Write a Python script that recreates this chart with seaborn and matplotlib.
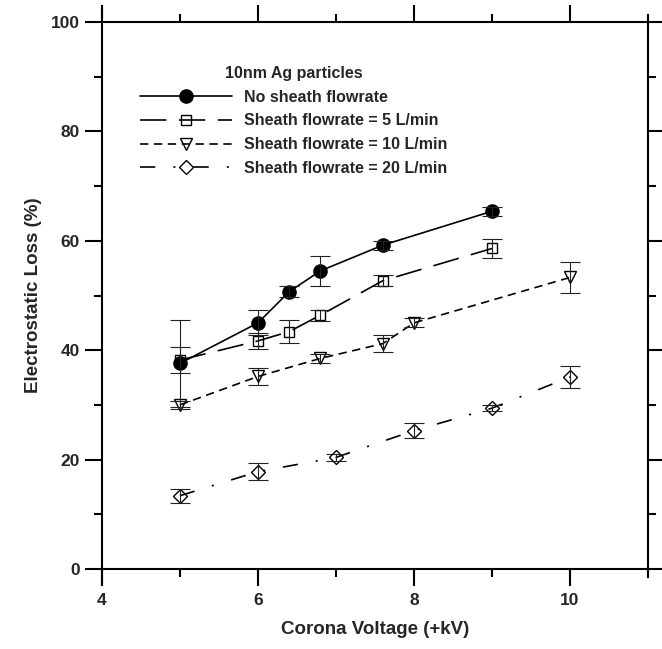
import matplotlib
matplotlib.use("Agg")
import matplotlib.pyplot as plt
import seaborn as sns
import pandas as pd
from matplotlib.ticker import MultipleLocator, FixedLocator

# Electrostatic loss of 10 nm Ag particles vs. corona voltage
voltage_none = [5, 6, 6.4, 6.8, 7.6, 9]
loss_none = [37.6, 45.0, 50.7, 54.5, 59.2, 65.4]
err_none = [8.0, 2.3, 1.0, 2.7, 0.8, 0.8]

voltage_5 = [5, 6, 6.4, 6.8, 7.6, 9]
loss_5 = [38.2, 41.7, 43.4, 46.4, 52.7, 58.6]
err_5 = [2.4, 1.4, 2.1, 1.0, 1.0, 1.8]

voltage_10 = [5, 6, 6.8, 7.6, 8, 10]
loss_10 = [30.0, 35.2, 38.5, 41.2, 45.0, 53.3]
err_10 = [0.8, 1.6, 0.8, 1.5, 0.8, 2.8]

voltage_20 = [5, 6, 7, 8, 9, 10]
loss_20 = [13.4, 17.8, 20.4, 25.3, 29.4, 35.1]
err_20 = [1.3, 1.5, 0.7, 1.3, 0.6, 2.0]

labels = ["No sheath flowrate",
          "Sheath flowrate = 5 L/min",
          "Sheath flowrate = 10 L/min",
          "Sheath flowrate = 20 L/min"]
legend_title = "10nm Ag particles"

sns.set_theme(style="ticks")
plt.rcParams["font.family"] = ["Liberation Sans", "DejaVu Sans"]
plt.rcParams["font.weight"] = "bold"
plt.rcParams["lines.scale_dashes"] = False

fig = plt.figure(figsize=(6.62, 6.49), dpi=100)
ax = fig.add_axes([102 / 662, 1 - 569 / 649, 546 / 662, 547 / 649])

series = [
    dict(x=voltage_none, y=loss_none, e=err_none, marker="o", ms=9.5,
         mfc="black", ls="-"),
    dict(x=voltage_5, y=loss_5, e=err_5, marker="s", ms=7.5,
         mfc="none", ls=(0, (19, 9))),
    dict(x=voltage_10, y=loss_10, e=err_10, marker="v", ms=9,
         mfc="none", ls=(0, (6, 4))),
    dict(x=voltage_20, y=loss_20, e=err_20, marker="D", ms=7.5,
         mfc="none", ls=(0, (11, 13, 1.5, 13))),
]

for s, lab in zip(series, labels):
    df = pd.DataFrame({"Voltage": s["x"], "Loss": s["y"]})
    sns.lineplot(data=df, x="Voltage", y="Loss", ax=ax, sort=False,
                 color="black", lw=1.2, linestyle=s["ls"],
                 marker=s["marker"], markersize=s["ms"],
                 markerfacecolor=s["mfc"], markeredgecolor="black",
                 markeredgewidth=1.0, label=lab, errorbar=None, zorder=3)
    ax.errorbar(s["x"], s["y"], yerr=s["e"], fmt="none", ecolor="#222222",
                elinewidth=0.8, capsize=7, capthick=0.8, zorder=4)

ax.set_xlim(4, 11)
ax.set_ylim(0, 100)

ax.xaxis.set_major_locator(FixedLocator([4, 6, 8, 10]))
ax.xaxis.set_minor_locator(MultipleLocator(1))
ax.yaxis.set_major_locator(MultipleLocator(20))
ax.yaxis.set_minor_locator(MultipleLocator(10))

ax.tick_params(axis="both", which="major", direction="out", length=12,
               width=1.5, labelsize=12.5, color="black", top=True,
               right=True, labeltop=False, labelright=False)
ax.tick_params(axis="both", which="minor", direction="out", length=6,
               width=1.5, color="black", top=True, right=True)
ax.tick_params(axis="x", which="major", pad=5)
ax.tick_params(axis="y", which="major", pad=4)
for lbl in ax.get_xticklabels() + ax.get_yticklabels():
    lbl.set_fontweight("bold")

for side in ["left", "right", "top", "bottom"]:
    ax.spines[side].set_visible(True)
    ax.spines[side].set_linewidth(1.5)
    ax.spines[side].set_color("black")
ax.spines["left"].set_bounds(-3, 103)
ax.spines["right"].set_bounds(-1.5, 101.2)

ax.set_xlabel("Corona Voltage (+kV)", fontsize=13.5, fontweight="bold",
              labelpad=10)
ax.set_ylabel("Electrostatic Loss (%)", fontsize=13.5, fontweight="bold",
              labelpad=6)

leg = ax.legend(loc="upper left", bbox_to_anchor=(0.07, 0.92),
                frameon=False, title=legend_title, fontsize=11.5,
                title_fontsize=11.5, handlelength=5.75, handletextpad=0.75,
                labelspacing=0.55, borderpad=0, borderaxespad=0)
leg.get_title().set_fontweight("bold")
for t in leg.get_texts():
    t.set_fontweight("bold")

fig.savefig("out.png", dpi=100)
